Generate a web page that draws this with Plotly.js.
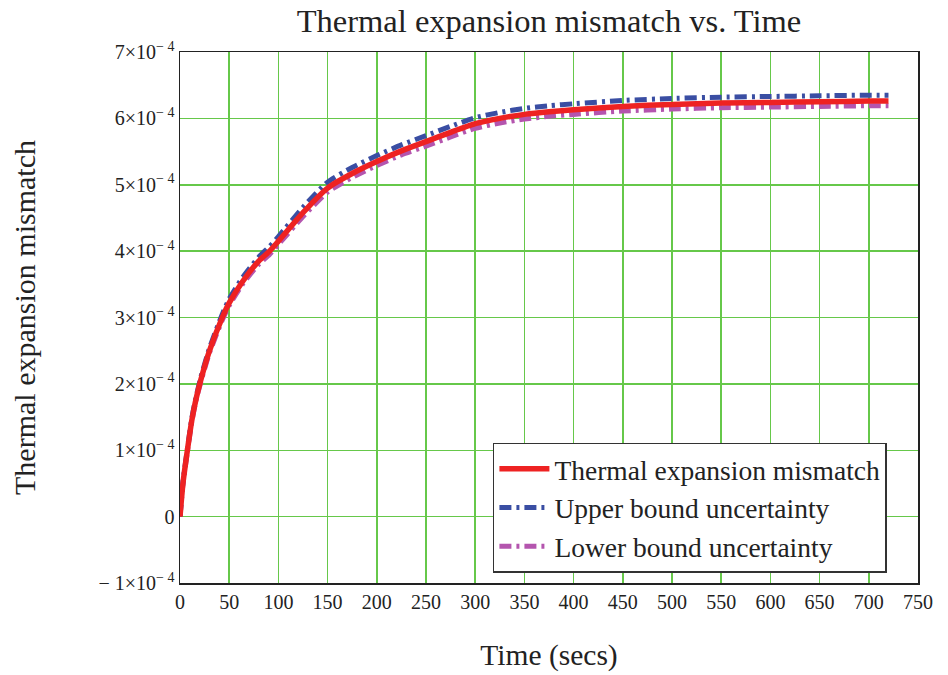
<!DOCTYPE html>
<html>
<head>
<meta charset="utf-8">
<script src="https://cdn.plot.ly/plotly-3.0.1.min.js"></script>
<style>html,body{margin:0;padding:0;background:#fff;}#chart{width:948px;height:675px;}</style>
</head>
<body>
<div id="chart"></div>
<script>
// Time (secs)
const time = [0, 3, 8, 12, 16, 21, 30, 43, 50, 64, 80, 91, 100, 125, 150, 175, 200, 225, 250, 275, 300, 325, 350, 375, 400, 450, 500, 550, 600, 650, 700, 720];
// Thermal expansion mismatch
const mismatch = [0, 0.50e-4, 1.05e-4, 1.45e-4, 1.75e-4, 2.05e-4, 2.50e-4, 3.00e-4, 3.22e-4, 3.55e-4, 3.85e-4, 4.00e-4, 4.15e-4, 4.58e-4, 4.95e-4, 5.17e-4, 5.35e-4, 5.51e-4, 5.65e-4, 5.79e-4, 5.92e-4, 6.00e-4, 6.06e-4, 6.10e-4, 6.13e-4, 6.18e-4, 6.21e-4, 6.23e-4, 6.24e-4, 6.25e-4, 6.26e-4, 6.26e-4];
// Upper bound uncertainty
const upper = [0, 0.52e-4, 1.07e-4, 1.48e-4, 1.78e-4, 2.09e-4, 2.54e-4, 3.05e-4, 3.28e-4, 3.61e-4, 3.91e-4, 4.07e-4, 4.22e-4, 4.66e-4, 5.04e-4, 5.26e-4, 5.44e-4, 5.60e-4, 5.74e-4, 5.88e-4, 6.01e-4, 6.09e-4, 6.15e-4, 6.19e-4, 6.22e-4, 6.27e-4, 6.30e-4, 6.32e-4, 6.33e-4, 6.34e-4, 6.35e-4, 6.35e-4];
// Lower bound uncertainty
const lower = [0, 0.49e-4, 1.03e-4, 1.43e-4, 1.73e-4, 2.02e-4, 2.47e-4, 2.96e-4, 3.18e-4, 3.51e-4, 3.80e-4, 3.95e-4, 4.10e-4, 4.52e-4, 4.89e-4, 5.11e-4, 5.29e-4, 5.45e-4, 5.58e-4, 5.72e-4, 5.85e-4, 5.93e-4, 5.99e-4, 6.03e-4, 6.06e-4, 6.11e-4, 6.14e-4, 6.16e-4, 6.17e-4, 6.18e-4, 6.19e-4, 6.19e-4];

const xTicks = [0, 50, 100, 150, 200, 250, 300, 350, 400, 450, 500, 550, 600, 650, 700, 750];
const yTickVals = [-1e-4, 0, 1e-4, 2e-4, 3e-4, 4e-4, 5e-4, 6e-4, 7e-4];
const yTickText = ['− 1×10<sup>− 4</sup>', '0', '1×10<sup>− 4</sup>', '2×10<sup>− 4</sup>', '3×10<sup>− 4</sup>', '4×10<sup>− 4</sup>', '5×10<sup>− 4</sup>', '6×10<sup>− 4</sup>', '7×10<sup>− 4</sup>'];

const serif = 'Liberation Serif, Times New Roman, serif';
const dashdot = '12px,5px,3px,5px';

const traces = [
  {x: time, y: lower, type: 'scatter', mode: 'lines', name: 'Lower bound uncertainty',
   line: {color: '#b455ae', width: 5, dash: dashdot, shape: 'spline', smoothing: 0.6}},
  {x: time, y: upper, type: 'scatter', mode: 'lines', name: 'Upper bound uncertainty',
   line: {color: '#3a4ea3', width: 5, dash: dashdot, shape: 'spline', smoothing: 0.6}},
  {x: time, y: mismatch, type: 'scatter', mode: 'lines', name: 'Thermal expansion mismatch',
   line: {color: '#ee2222', width: 5.5, shape: 'spline', smoothing: 0.6}}
];

const layout = {
  width: 948, height: 675,
  margin: {l: 180, r: 30, t: 52, b: 92},
  paper_bgcolor: '#fff', plot_bgcolor: '#fff',
  font: {family: serif, color: '#222'},
  title: {text: 'Thermal expansion mismatch vs. Time', font: {family: serif, size: 32.5, color: '#222'},
          xref: 'paper', x: 0.5, xanchor: 'center', yref: 'container', y: 0.97, yanchor: 'middle'},
  xaxis: {
    range: [0, 750], tickmode: 'array', tickvals: xTicks, ticktext: xTicks.map(String),
    showgrid: true, gridcolor: '#66c84a', gridwidth: 1.5, zeroline: false,
    showline: true, linecolor: '#222', linewidth: 1.5, mirror: true, ticks: '',
    tickfont: {family: serif, size: 20, color: '#222'},
    title: {text: 'Time (secs)', font: {family: serif, size: 29.5, color: '#222'}, standoff: 33}
  },
  yaxis: {
    range: [-1e-4, 7e-4], tickmode: 'array', tickvals: yTickVals, ticktext: yTickText,
    showgrid: true, gridcolor: '#66c84a', gridwidth: 1.5, zeroline: false,
    showline: true, linecolor: '#222', linewidth: 1.5, mirror: true, ticks: '',
    tickfont: {family: serif, size: 20, color: '#222'},
    title: {text: 'Thermal expansion mismatch', font: {family: serif, size: 30, color: '#222'}, standoff: 54}
  },
  legend: {
    x: 0.424, y: 0.019, xanchor: 'left', yanchor: 'bottom', traceorder: 'reversed',
    bgcolor: '#fff', bordercolor: '#333', borderwidth: 1.5,
    font: {family: serif, size: 27.5, color: '#222'}, itemwidth: 50
  },
  showlegend: true
};

Plotly.newPlot('chart', traces, layout, {displayModeBar: false, staticPlot: true});
</script>
</body>
</html>
